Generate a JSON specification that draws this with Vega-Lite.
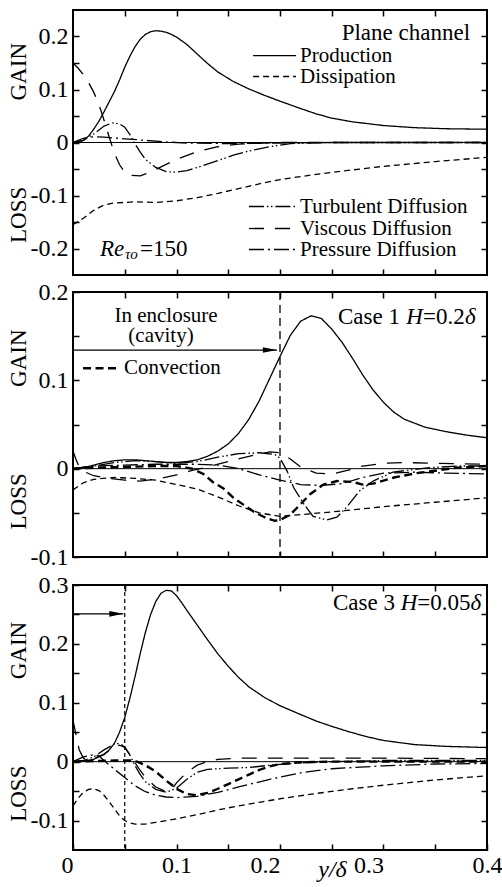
{
"$schema": "https://vega.github.io/schema/vega-lite/v6.json",
"padding": {"left": 5, "top": 8, "right": 0, "bottom": 0},
"config": {
 "view": {"stroke": "black", "strokeWidth": 2},
 "font": "Liberation Serif",
 "axis": {"domain": false, "grid": false, "tickColor": "black", "tickWidth": 1.5, "tickSize": -6, "labelFont": "Liberation Serif", "labelFontSize": 24, "labelColor": "black", "labelOverlap": false, "titleFont": "Liberation Serif", "titleFontWeight": "normal", "titleColor": "black", "titleFontSize": 23},
 "axisLeft": {"labelPadding": 11},
 "axisBottom": {"labelPadding": 9, "labelFlush": false},
 "text": {"font": "Liberation Serif", "color": "black", "baseline": "middle"}
},
"datasets": {
 "curves": [
  {"p":1,"s":"Production","x":0,"y":0},{"p":1,"s":"Production","x":0.005,"y":0.001},{"p":1,"s":"Production","x":0.01,"y":0.004},{"p":1,"s":"Production","x":0.015,"y":0.012},{"p":1,"s":"Production","x":0.02,"y":0.025},{"p":1,"s":"Production","x":0.025,"y":0.04},{"p":1,"s":"Production","x":0.03,"y":0.058},{"p":1,"s":"Production","x":0.035,"y":0.077},{"p":1,"s":"Production","x":0.04,"y":0.096},{"p":1,"s":"Production","x":0.045,"y":0.118},{"p":1,"s":"Production","x":0.05,"y":0.142},{"p":1,"s":"Production","x":0.055,"y":0.163},{"p":1,"s":"Production","x":0.06,"y":0.181},{"p":1,"s":"Production","x":0.065,"y":0.195},{"p":1,"s":"Production","x":0.07,"y":0.204},{"p":1,"s":"Production","x":0.075,"y":0.209},{"p":1,"s":"Production","x":0.08,"y":0.211},{"p":1,"s":"Production","x":0.085,"y":0.21},{"p":1,"s":"Production","x":0.09,"y":0.208},{"p":1,"s":"Production","x":0.095,"y":0.204},{"p":1,"s":"Production","x":0.1,"y":0.199},{"p":1,"s":"Production","x":0.11,"y":0.185},{"p":1,"s":"Production","x":0.12,"y":0.167},{"p":1,"s":"Production","x":0.13,"y":0.149},{"p":1,"s":"Production","x":0.14,"y":0.133},{"p":1,"s":"Production","x":0.155,"y":0.115},{"p":1,"s":"Production","x":0.17,"y":0.101},{"p":1,"s":"Production","x":0.185,"y":0.089},{"p":1,"s":"Production","x":0.2,"y":0.078},{"p":1,"s":"Production","x":0.22,"y":0.064},{"p":1,"s":"Production","x":0.235,"y":0.054},{"p":1,"s":"Production","x":0.25,"y":0.046},{"p":1,"s":"Production","x":0.27,"y":0.039},{"p":1,"s":"Production","x":0.3,"y":0.032},{"p":1,"s":"Production","x":0.33,"y":0.028},{"p":1,"s":"Production","x":0.36,"y":0.026},{"p":1,"s":"Production","x":0.4,"y":0.025},
  {"p":1,"s":"Dissipation","x":0,"y":-0.155},{"p":1,"s":"Dissipation","x":0.01,"y":-0.143},{"p":1,"s":"Dissipation","x":0.02,"y":-0.128},{"p":1,"s":"Dissipation","x":0.03,"y":-0.118},{"p":1,"s":"Dissipation","x":0.04,"y":-0.114},{"p":1,"s":"Dissipation","x":0.06,"y":-0.112},{"p":1,"s":"Dissipation","x":0.08,"y":-0.113},{"p":1,"s":"Dissipation","x":0.1,"y":-0.11},{"p":1,"s":"Dissipation","x":0.12,"y":-0.104},{"p":1,"s":"Dissipation","x":0.14,"y":-0.096},{"p":1,"s":"Dissipation","x":0.16,"y":-0.087},{"p":1,"s":"Dissipation","x":0.18,"y":-0.078},{"p":1,"s":"Dissipation","x":0.2,"y":-0.07},{"p":1,"s":"Dissipation","x":0.235,"y":-0.06},{"p":1,"s":"Dissipation","x":0.26,"y":-0.054},{"p":1,"s":"Dissipation","x":0.3,"y":-0.045},{"p":1,"s":"Dissipation","x":0.35,"y":-0.036},{"p":1,"s":"Dissipation","x":0.4,"y":-0.028},
  {"p":1,"s":"Viscous Diffusion","x":0,"y":0.15},{"p":1,"s":"Viscous Diffusion","x":0.005,"y":0.14},{"p":1,"s":"Viscous Diffusion","x":0.01,"y":0.128},{"p":1,"s":"Viscous Diffusion","x":0.015,"y":0.113},{"p":1,"s":"Viscous Diffusion","x":0.02,"y":0.095},{"p":1,"s":"Viscous Diffusion","x":0.025,"y":0.072},{"p":1,"s":"Viscous Diffusion","x":0.03,"y":0.042},{"p":1,"s":"Viscous Diffusion","x":0.035,"y":0.01},{"p":1,"s":"Viscous Diffusion","x":0.04,"y":-0.02},{"p":1,"s":"Viscous Diffusion","x":0.045,"y":-0.042},{"p":1,"s":"Viscous Diffusion","x":0.05,"y":-0.056},{"p":1,"s":"Viscous Diffusion","x":0.055,"y":-0.062},{"p":1,"s":"Viscous Diffusion","x":0.065,"y":-0.063},{"p":1,"s":"Viscous Diffusion","x":0.075,"y":-0.056},{"p":1,"s":"Viscous Diffusion","x":0.085,"y":-0.046},{"p":1,"s":"Viscous Diffusion","x":0.1,"y":-0.032},{"p":1,"s":"Viscous Diffusion","x":0.12,"y":-0.017},{"p":1,"s":"Viscous Diffusion","x":0.14,"y":-0.008},{"p":1,"s":"Viscous Diffusion","x":0.16,"y":-0.003},{"p":1,"s":"Viscous Diffusion","x":0.2,"y":0},{"p":1,"s":"Viscous Diffusion","x":0.4,"y":0},
  {"p":1,"s":"Turbulent Diffusion","x":0,"y":0},{"p":1,"s":"Turbulent Diffusion","x":0.01,"y":0.004},{"p":1,"s":"Turbulent Diffusion","x":0.02,"y":0.016},{"p":1,"s":"Turbulent Diffusion","x":0.03,"y":0.031},{"p":1,"s":"Turbulent Diffusion","x":0.038,"y":0.037},{"p":1,"s":"Turbulent Diffusion","x":0.045,"y":0.035},{"p":1,"s":"Turbulent Diffusion","x":0.05,"y":0.029},{"p":1,"s":"Turbulent Diffusion","x":0.055,"y":0.015},{"p":1,"s":"Turbulent Diffusion","x":0.06,"y":-0.003},{"p":1,"s":"Turbulent Diffusion","x":0.065,"y":-0.018},{"p":1,"s":"Turbulent Diffusion","x":0.07,"y":-0.032},{"p":1,"s":"Turbulent Diffusion","x":0.08,"y":-0.047},{"p":1,"s":"Turbulent Diffusion","x":0.09,"y":-0.055},{"p":1,"s":"Turbulent Diffusion","x":0.1,"y":-0.056},{"p":1,"s":"Turbulent Diffusion","x":0.11,"y":-0.053},{"p":1,"s":"Turbulent Diffusion","x":0.125,"y":-0.044},{"p":1,"s":"Turbulent Diffusion","x":0.14,"y":-0.034},{"p":1,"s":"Turbulent Diffusion","x":0.155,"y":-0.024},{"p":1,"s":"Turbulent Diffusion","x":0.17,"y":-0.016},{"p":1,"s":"Turbulent Diffusion","x":0.19,"y":-0.008},{"p":1,"s":"Turbulent Diffusion","x":0.21,"y":-0.002},{"p":1,"s":"Turbulent Diffusion","x":0.25,"y":0},{"p":1,"s":"Turbulent Diffusion","x":0.4,"y":0},
  {"p":1,"s":"Pressure Diffusion","x":0,"y":0},{"p":1,"s":"Pressure Diffusion","x":0.005,"y":0.004},{"p":1,"s":"Pressure Diffusion","x":0.01,"y":0.008},{"p":1,"s":"Pressure Diffusion","x":0.02,"y":0.011},{"p":1,"s":"Pressure Diffusion","x":0.03,"y":0.01},{"p":1,"s":"Pressure Diffusion","x":0.05,"y":0.007},{"p":1,"s":"Pressure Diffusion","x":0.07,"y":0.004},{"p":1,"s":"Pressure Diffusion","x":0.09,"y":0.001},{"p":1,"s":"Pressure Diffusion","x":0.11,"y":-0.001},{"p":1,"s":"Pressure Diffusion","x":0.15,"y":-0.002},{"p":1,"s":"Pressure Diffusion","x":0.2,"y":-0.001},{"p":1,"s":"Pressure Diffusion","x":0.25,"y":0},{"p":1,"s":"Pressure Diffusion","x":0.4,"y":0},

  {"p":2,"s":"Production","x":0,"y":0},{"p":2,"s":"Production","x":0.01,"y":0.001},{"p":2,"s":"Production","x":0.02,"y":0.004},{"p":2,"s":"Production","x":0.03,"y":0.007},{"p":2,"s":"Production","x":0.04,"y":0.009},{"p":2,"s":"Production","x":0.05,"y":0.01},{"p":2,"s":"Production","x":0.06,"y":0.01},{"p":2,"s":"Production","x":0.07,"y":0.009},{"p":2,"s":"Production","x":0.08,"y":0.008},{"p":2,"s":"Production","x":0.09,"y":0.007},{"p":2,"s":"Production","x":0.1,"y":0.007},{"p":2,"s":"Production","x":0.11,"y":0.008},{"p":2,"s":"Production","x":0.12,"y":0.01},{"p":2,"s":"Production","x":0.13,"y":0.014},{"p":2,"s":"Production","x":0.14,"y":0.02},{"p":2,"s":"Production","x":0.15,"y":0.028},{"p":2,"s":"Production","x":0.16,"y":0.04},{"p":2,"s":"Production","x":0.17,"y":0.056},{"p":2,"s":"Production","x":0.18,"y":0.077},{"p":2,"s":"Production","x":0.19,"y":0.102},{"p":2,"s":"Production","x":0.2,"y":0.127},{"p":2,"s":"Production","x":0.21,"y":0.151},{"p":2,"s":"Production","x":0.22,"y":0.167},{"p":2,"s":"Production","x":0.23,"y":0.173},{"p":2,"s":"Production","x":0.24,"y":0.17},{"p":2,"s":"Production","x":0.25,"y":0.158},{"p":2,"s":"Production","x":0.26,"y":0.143},{"p":2,"s":"Production","x":0.27,"y":0.125},{"p":2,"s":"Production","x":0.28,"y":0.106},{"p":2,"s":"Production","x":0.29,"y":0.089},{"p":2,"s":"Production","x":0.3,"y":0.075},{"p":2,"s":"Production","x":0.31,"y":0.064},{"p":2,"s":"Production","x":0.32,"y":0.056},{"p":2,"s":"Production","x":0.34,"y":0.047},{"p":2,"s":"Production","x":0.36,"y":0.042},{"p":2,"s":"Production","x":0.38,"y":0.038},{"p":2,"s":"Production","x":0.4,"y":0.035},
  {"p":2,"s":"Dissipation","x":0,"y":-0.024},{"p":2,"s":"Dissipation","x":0.01,"y":-0.016},{"p":2,"s":"Dissipation","x":0.02,"y":-0.012},{"p":2,"s":"Dissipation","x":0.04,"y":-0.01},{"p":2,"s":"Dissipation","x":0.06,"y":-0.011},{"p":2,"s":"Dissipation","x":0.08,"y":-0.013},{"p":2,"s":"Dissipation","x":0.1,"y":-0.018},{"p":2,"s":"Dissipation","x":0.12,"y":-0.023},{"p":2,"s":"Dissipation","x":0.14,"y":-0.032},{"p":2,"s":"Dissipation","x":0.16,"y":-0.042},{"p":2,"s":"Dissipation","x":0.18,"y":-0.05},{"p":2,"s":"Dissipation","x":0.2,"y":-0.054},{"p":2,"s":"Dissipation","x":0.22,"y":-0.052},{"p":2,"s":"Dissipation","x":0.25,"y":-0.049},{"p":2,"s":"Dissipation","x":0.3,"y":-0.043},{"p":2,"s":"Dissipation","x":0.35,"y":-0.038},{"p":2,"s":"Dissipation","x":0.4,"y":-0.033},
  {"p":2,"s":"Convection","x":0,"y":0},{"p":2,"s":"Convection","x":0.02,"y":0.001},{"p":2,"s":"Convection","x":0.05,"y":0.002},{"p":2,"s":"Convection","x":0.08,"y":0.003},{"p":2,"s":"Convection","x":0.1,"y":0.003},{"p":2,"s":"Convection","x":0.115,"y":0},{"p":2,"s":"Convection","x":0.126,"y":-0.006},{"p":2,"s":"Convection","x":0.135,"y":-0.015},{"p":2,"s":"Convection","x":0.145,"y":-0.022},{"p":2,"s":"Convection","x":0.155,"y":-0.033},{"p":2,"s":"Convection","x":0.165,"y":-0.041},{"p":2,"s":"Convection","x":0.175,"y":-0.049},{"p":2,"s":"Convection","x":0.185,"y":-0.055},{"p":2,"s":"Convection","x":0.195,"y":-0.059},{"p":2,"s":"Convection","x":0.2,"y":-0.058},{"p":2,"s":"Convection","x":0.21,"y":-0.052},{"p":2,"s":"Convection","x":0.22,"y":-0.04},{"p":2,"s":"Convection","x":0.229,"y":-0.029},{"p":2,"s":"Convection","x":0.242,"y":-0.018},{"p":2,"s":"Convection","x":0.255,"y":-0.014},{"p":2,"s":"Convection","x":0.27,"y":-0.015},{"p":2,"s":"Convection","x":0.28,"y":-0.018},{"p":2,"s":"Convection","x":0.29,"y":-0.017},{"p":2,"s":"Convection","x":0.31,"y":-0.01},{"p":2,"s":"Convection","x":0.332,"y":-0.005},{"p":2,"s":"Convection","x":0.352,"y":-0.002},{"p":2,"s":"Convection","x":0.37,"y":0.001},{"p":2,"s":"Convection","x":0.4,"y":0.003},
  {"p":2,"s":"Turbulent Diffusion","x":0,"y":0},{"p":2,"s":"Turbulent Diffusion","x":0.02,"y":0.003},{"p":2,"s":"Turbulent Diffusion","x":0.04,"y":0.007},{"p":2,"s":"Turbulent Diffusion","x":0.06,"y":0.009},{"p":2,"s":"Turbulent Diffusion","x":0.08,"y":0.008},{"p":2,"s":"Turbulent Diffusion","x":0.1,"y":0.006},{"p":2,"s":"Turbulent Diffusion","x":0.12,"y":0.008},{"p":2,"s":"Turbulent Diffusion","x":0.14,"y":0.013},{"p":2,"s":"Turbulent Diffusion","x":0.16,"y":0.017},{"p":2,"s":"Turbulent Diffusion","x":0.18,"y":0.018},{"p":2,"s":"Turbulent Diffusion","x":0.195,"y":0.016},{"p":2,"s":"Turbulent Diffusion","x":0.2,"y":0.012},{"p":2,"s":"Turbulent Diffusion","x":0.207,"y":-0.003},{"p":2,"s":"Turbulent Diffusion","x":0.213,"y":-0.021},{"p":2,"s":"Turbulent Diffusion","x":0.223,"y":-0.04},{"p":2,"s":"Turbulent Diffusion","x":0.232,"y":-0.054},{"p":2,"s":"Turbulent Diffusion","x":0.245,"y":-0.058},{"p":2,"s":"Turbulent Diffusion","x":0.255,"y":-0.055},{"p":2,"s":"Turbulent Diffusion","x":0.264,"y":-0.044},{"p":2,"s":"Turbulent Diffusion","x":0.277,"y":-0.025},{"p":2,"s":"Turbulent Diffusion","x":0.29,"y":-0.014},{"p":2,"s":"Turbulent Diffusion","x":0.309,"y":-0.004},{"p":2,"s":"Turbulent Diffusion","x":0.342,"y":0.001},{"p":2,"s":"Turbulent Diffusion","x":0.374,"y":0.003},{"p":2,"s":"Turbulent Diffusion","x":0.4,"y":0.003},
  {"p":2,"s":"Viscous Diffusion","x":0,"y":0.02},{"p":2,"s":"Viscous Diffusion","x":0.003,"y":0.01},{"p":2,"s":"Viscous Diffusion","x":0.006,"y":0.002},{"p":2,"s":"Viscous Diffusion","x":0.012,"y":-0.004},{"p":2,"s":"Viscous Diffusion","x":0.02,"y":-0.008},{"p":2,"s":"Viscous Diffusion","x":0.035,"y":-0.011},{"p":2,"s":"Viscous Diffusion","x":0.05,"y":-0.013},{"p":2,"s":"Viscous Diffusion","x":0.065,"y":-0.014},{"p":2,"s":"Viscous Diffusion","x":0.08,"y":-0.012},{"p":2,"s":"Viscous Diffusion","x":0.1,"y":-0.007},{"p":2,"s":"Viscous Diffusion","x":0.115,"y":-0.002},{"p":2,"s":"Viscous Diffusion","x":0.13,"y":0.002},{"p":2,"s":"Viscous Diffusion","x":0.15,"y":0.008},{"p":2,"s":"Viscous Diffusion","x":0.17,"y":0.014},{"p":2,"s":"Viscous Diffusion","x":0.19,"y":0.019},{"p":2,"s":"Viscous Diffusion","x":0.2,"y":0.018},{"p":2,"s":"Viscous Diffusion","x":0.21,"y":0.011},{"p":2,"s":"Viscous Diffusion","x":0.22,"y":0.002},{"p":2,"s":"Viscous Diffusion","x":0.235,"y":-0.005},{"p":2,"s":"Viscous Diffusion","x":0.25,"y":-0.006},{"p":2,"s":"Viscous Diffusion","x":0.265,"y":-0.002},{"p":2,"s":"Viscous Diffusion","x":0.28,"y":0.003},{"p":2,"s":"Viscous Diffusion","x":0.3,"y":0.006},{"p":2,"s":"Viscous Diffusion","x":0.32,"y":0.007},{"p":2,"s":"Viscous Diffusion","x":0.35,"y":0.006},{"p":2,"s":"Viscous Diffusion","x":0.4,"y":0.005},
  {"p":2,"s":"Pressure Diffusion","x":0,"y":0},{"p":2,"s":"Pressure Diffusion","x":0.02,"y":0.003},{"p":2,"s":"Pressure Diffusion","x":0.05,"y":0.004},{"p":2,"s":"Pressure Diffusion","x":0.08,"y":0.005},{"p":2,"s":"Pressure Diffusion","x":0.1,"y":0.005},{"p":2,"s":"Pressure Diffusion","x":0.12,"y":0.005},{"p":2,"s":"Pressure Diffusion","x":0.14,"y":0.004},{"p":2,"s":"Pressure Diffusion","x":0.16,"y":0},{"p":2,"s":"Pressure Diffusion","x":0.18,"y":-0.007},{"p":2,"s":"Pressure Diffusion","x":0.2,"y":-0.013},{"p":2,"s":"Pressure Diffusion","x":0.22,"y":-0.018},{"p":2,"s":"Pressure Diffusion","x":0.24,"y":-0.019},{"p":2,"s":"Pressure Diffusion","x":0.26,"y":-0.017},{"p":2,"s":"Pressure Diffusion","x":0.28,"y":-0.01},{"p":2,"s":"Pressure Diffusion","x":0.3,"y":-0.005},{"p":2,"s":"Pressure Diffusion","x":0.33,"y":-0.004},{"p":2,"s":"Pressure Diffusion","x":0.36,"y":-0.005},{"p":2,"s":"Pressure Diffusion","x":0.4,"y":-0.006},

  {"p":3,"s":"Production","x":0,"y":0},{"p":3,"s":"Production","x":0.01,"y":0.001},{"p":3,"s":"Production","x":0.02,"y":0.004},{"p":3,"s":"Production","x":0.03,"y":0.012},{"p":3,"s":"Production","x":0.035,"y":0.02},{"p":3,"s":"Production","x":0.04,"y":0.031},{"p":3,"s":"Production","x":0.045,"y":0.05},{"p":3,"s":"Production","x":0.05,"y":0.075},{"p":3,"s":"Production","x":0.055,"y":0.108},{"p":3,"s":"Production","x":0.06,"y":0.145},{"p":3,"s":"Production","x":0.065,"y":0.184},{"p":3,"s":"Production","x":0.07,"y":0.22},{"p":3,"s":"Production","x":0.075,"y":0.25},{"p":3,"s":"Production","x":0.08,"y":0.272},{"p":3,"s":"Production","x":0.085,"y":0.286},{"p":3,"s":"Production","x":0.09,"y":0.291},{"p":3,"s":"Production","x":0.095,"y":0.29},{"p":3,"s":"Production","x":0.1,"y":0.282},{"p":3,"s":"Production","x":0.105,"y":0.27},{"p":3,"s":"Production","x":0.11,"y":0.257},{"p":3,"s":"Production","x":0.12,"y":0.232},{"p":3,"s":"Production","x":0.13,"y":0.207},{"p":3,"s":"Production","x":0.14,"y":0.183},{"p":3,"s":"Production","x":0.15,"y":0.162},{"p":3,"s":"Production","x":0.16,"y":0.143},{"p":3,"s":"Production","x":0.17,"y":0.127},{"p":3,"s":"Production","x":0.185,"y":0.109},{"p":3,"s":"Production","x":0.2,"y":0.095},{"p":3,"s":"Production","x":0.22,"y":0.08},{"p":3,"s":"Production","x":0.235,"y":0.069},{"p":3,"s":"Production","x":0.25,"y":0.06},{"p":3,"s":"Production","x":0.268,"y":0.05},{"p":3,"s":"Production","x":0.285,"y":0.042},{"p":3,"s":"Production","x":0.3,"y":0.036},{"p":3,"s":"Production","x":0.33,"y":0.029},{"p":3,"s":"Production","x":0.36,"y":0.026},{"p":3,"s":"Production","x":0.4,"y":0.024},
  {"p":3,"s":"Dissipation","x":0,"y":-0.075},{"p":3,"s":"Dissipation","x":0.005,"y":-0.062},{"p":3,"s":"Dissipation","x":0.01,"y":-0.052},{"p":3,"s":"Dissipation","x":0.015,"y":-0.047},{"p":3,"s":"Dissipation","x":0.02,"y":-0.046},{"p":3,"s":"Dissipation","x":0.025,"y":-0.049},{"p":3,"s":"Dissipation","x":0.03,"y":-0.057},{"p":3,"s":"Dissipation","x":0.035,"y":-0.068},{"p":3,"s":"Dissipation","x":0.04,"y":-0.08},{"p":3,"s":"Dissipation","x":0.045,"y":-0.092},{"p":3,"s":"Dissipation","x":0.05,"y":-0.1},{"p":3,"s":"Dissipation","x":0.055,"y":-0.104},{"p":3,"s":"Dissipation","x":0.06,"y":-0.106},{"p":3,"s":"Dissipation","x":0.07,"y":-0.106},{"p":3,"s":"Dissipation","x":0.08,"y":-0.103},{"p":3,"s":"Dissipation","x":0.1,"y":-0.097},{"p":3,"s":"Dissipation","x":0.12,"y":-0.09},{"p":3,"s":"Dissipation","x":0.14,"y":-0.082},{"p":3,"s":"Dissipation","x":0.16,"y":-0.075},{"p":3,"s":"Dissipation","x":0.18,"y":-0.069},{"p":3,"s":"Dissipation","x":0.2,"y":-0.063},{"p":3,"s":"Dissipation","x":0.235,"y":-0.054},{"p":3,"s":"Dissipation","x":0.27,"y":-0.046},{"p":3,"s":"Dissipation","x":0.3,"y":-0.04},{"p":3,"s":"Dissipation","x":0.35,"y":-0.031},{"p":3,"s":"Dissipation","x":0.4,"y":-0.024},
  {"p":3,"s":"Viscous Diffusion","x":0,"y":0.07},{"p":3,"s":"Viscous Diffusion","x":0.003,"y":0.045},{"p":3,"s":"Viscous Diffusion","x":0.006,"y":0.02},{"p":3,"s":"Viscous Diffusion","x":0.01,"y":0.006},{"p":3,"s":"Viscous Diffusion","x":0.015,"y":0.003},{"p":3,"s":"Viscous Diffusion","x":0.02,"y":0.005},{"p":3,"s":"Viscous Diffusion","x":0.03,"y":0.013},{"p":3,"s":"Viscous Diffusion","x":0.04,"y":0.025},{"p":3,"s":"Viscous Diffusion","x":0.045,"y":0.028},{"p":3,"s":"Viscous Diffusion","x":0.05,"y":0.024},{"p":3,"s":"Viscous Diffusion","x":0.055,"y":0.012},{"p":3,"s":"Viscous Diffusion","x":0.06,"y":-0.002},{"p":3,"s":"Viscous Diffusion","x":0.065,"y":-0.015},{"p":3,"s":"Viscous Diffusion","x":0.07,"y":-0.027},{"p":3,"s":"Viscous Diffusion","x":0.08,"y":-0.043},{"p":3,"s":"Viscous Diffusion","x":0.09,"y":-0.051},{"p":3,"s":"Viscous Diffusion","x":0.095,"y":-0.048},{"p":3,"s":"Viscous Diffusion","x":0.1,"y":-0.036},{"p":3,"s":"Viscous Diffusion","x":0.11,"y":-0.018},{"p":3,"s":"Viscous Diffusion","x":0.12,"y":-0.006},{"p":3,"s":"Viscous Diffusion","x":0.13,"y":0},{"p":3,"s":"Viscous Diffusion","x":0.14,"y":0.004},{"p":3,"s":"Viscous Diffusion","x":0.16,"y":0.006},{"p":3,"s":"Viscous Diffusion","x":0.2,"y":0.006},{"p":3,"s":"Viscous Diffusion","x":0.3,"y":0.006},{"p":3,"s":"Viscous Diffusion","x":0.4,"y":0.005},
  {"p":3,"s":"Turbulent Diffusion","x":0,"y":0},{"p":3,"s":"Turbulent Diffusion","x":0.01,"y":0.002},{"p":3,"s":"Turbulent Diffusion","x":0.02,"y":0.008},{"p":3,"s":"Turbulent Diffusion","x":0.03,"y":0.02},{"p":3,"s":"Turbulent Diffusion","x":0.04,"y":0.03},{"p":3,"s":"Turbulent Diffusion","x":0.045,"y":0.031},{"p":3,"s":"Turbulent Diffusion","x":0.05,"y":0.025},{"p":3,"s":"Turbulent Diffusion","x":0.055,"y":0.011},{"p":3,"s":"Turbulent Diffusion","x":0.06,"y":-0.007},{"p":3,"s":"Turbulent Diffusion","x":0.065,"y":-0.022},{"p":3,"s":"Turbulent Diffusion","x":0.07,"y":-0.034},{"p":3,"s":"Turbulent Diffusion","x":0.08,"y":-0.047},{"p":3,"s":"Turbulent Diffusion","x":0.09,"y":-0.052},{"p":3,"s":"Turbulent Diffusion","x":0.1,"y":-0.045},{"p":3,"s":"Turbulent Diffusion","x":0.11,"y":-0.03},{"p":3,"s":"Turbulent Diffusion","x":0.12,"y":-0.018},{"p":3,"s":"Turbulent Diffusion","x":0.13,"y":-0.013},{"p":3,"s":"Turbulent Diffusion","x":0.15,"y":-0.011},{"p":3,"s":"Turbulent Diffusion","x":0.17,"y":-0.01},{"p":3,"s":"Turbulent Diffusion","x":0.19,"y":-0.006},{"p":3,"s":"Turbulent Diffusion","x":0.22,"y":-0.002},{"p":3,"s":"Turbulent Diffusion","x":0.25,"y":0},{"p":3,"s":"Turbulent Diffusion","x":0.3,"y":0.002},{"p":3,"s":"Turbulent Diffusion","x":0.4,"y":0.002},
  {"p":3,"s":"Pressure Diffusion","x":0,"y":0},{"p":3,"s":"Pressure Diffusion","x":0.01,"y":0.008},{"p":3,"s":"Pressure Diffusion","x":0.02,"y":0.012},{"p":3,"s":"Pressure Diffusion","x":0.025,"y":0.01},{"p":3,"s":"Pressure Diffusion","x":0.03,"y":0.002},{"p":3,"s":"Pressure Diffusion","x":0.04,"y":-0.013},{"p":3,"s":"Pressure Diffusion","x":0.05,"y":-0.027},{"p":3,"s":"Pressure Diffusion","x":0.06,"y":-0.041},{"p":3,"s":"Pressure Diffusion","x":0.07,"y":-0.051},{"p":3,"s":"Pressure Diffusion","x":0.08,"y":-0.057},{"p":3,"s":"Pressure Diffusion","x":0.09,"y":-0.06},{"p":3,"s":"Pressure Diffusion","x":0.1,"y":-0.061},{"p":3,"s":"Pressure Diffusion","x":0.12,"y":-0.059},{"p":3,"s":"Pressure Diffusion","x":0.14,"y":-0.052},{"p":3,"s":"Pressure Diffusion","x":0.16,"y":-0.043},{"p":3,"s":"Pressure Diffusion","x":0.19,"y":-0.03},{"p":3,"s":"Pressure Diffusion","x":0.22,"y":-0.019},{"p":3,"s":"Pressure Diffusion","x":0.25,"y":-0.012},{"p":3,"s":"Pressure Diffusion","x":0.3,"y":-0.007},{"p":3,"s":"Pressure Diffusion","x":0.35,"y":-0.004},{"p":3,"s":"Pressure Diffusion","x":0.4,"y":-0.003},
  {"p":3,"s":"Convection","x":0,"y":0},{"p":3,"s":"Convection","x":0.02,"y":0.001},{"p":3,"s":"Convection","x":0.04,"y":0.002},{"p":3,"s":"Convection","x":0.055,"y":0.002},{"p":3,"s":"Convection","x":0.062,"y":0},{"p":3,"s":"Convection","x":0.07,"y":-0.006},{"p":3,"s":"Convection","x":0.08,"y":-0.017},{"p":3,"s":"Convection","x":0.09,"y":-0.032},{"p":3,"s":"Convection","x":0.1,"y":-0.046},{"p":3,"s":"Convection","x":0.11,"y":-0.055},{"p":3,"s":"Convection","x":0.12,"y":-0.057},{"p":3,"s":"Convection","x":0.13,"y":-0.053},{"p":3,"s":"Convection","x":0.14,"y":-0.046},{"p":3,"s":"Convection","x":0.15,"y":-0.038},{"p":3,"s":"Convection","x":0.16,"y":-0.03},{"p":3,"s":"Convection","x":0.17,"y":-0.022},{"p":3,"s":"Convection","x":0.18,"y":-0.014},{"p":3,"s":"Convection","x":0.19,"y":-0.008},{"p":3,"s":"Convection","x":0.2,"y":-0.004},{"p":3,"s":"Convection","x":0.22,"y":-0.001},{"p":3,"s":"Convection","x":0.25,"y":0},{"p":3,"s":"Convection","x":0.4,"y":0}
 ],
 "legend": [
  {"p":1,"s":"Production","x1":0.174,"x2":0.2155,"y":0.164},
  {"p":1,"s":"Dissipation","x1":0.174,"x2":0.2155,"y":0.1245},
  {"p":1,"s":"Turbulent Diffusion","x1":0.17,"x2":0.2155,"y":-0.1208},
  {"p":1,"s":"Viscous Diffusion","x1":0.17,"x2":0.2155,"y":-0.1623},
  {"p":1,"s":"Pressure Diffusion","x1":0.17,"x2":0.2155,"y":-0.2019},
  {"p":2,"s":"Convection","x1":0.0097,"x2":0.0454,"y":0.1136}
 ],
 "zero": [{"x1":0,"x2":0.4,"y":0}],
 "walls": [{"p":2,"x":0.2},{"p":3,"x":0.05}],
 "arrows": [{"p":2,"x1":0,"x2":0.197,"y":0.1343},{"p":3,"x1":0,"x2":0.0486,"y":0.251}],
 "text_plain": [{"p":1,"x":0.0647,"y":-0.2,"t":"=150"},{"p":2,"x":0.256,"y":0.1713,"t":"Case 1"},{"p":2,"x":0.3382,"y":0.1713,"t":"=0.2"},{"p":3,"x":0.2512,"y":0.269,"t":"Case 3"},{"p":3,"x":0.3327,"y":0.269,"t":"=0.05"}],
 "text_italic": [{"p":1,"x":0.0261,"y":-0.2,"t":"Re"},{"p":2,"x":0.322,"y":0.1713,"t":"H"},{"p":2,"x":0.3787,"y":0.1713,"t":"δ"},{"p":3,"x":0.3166,"y":0.269,"t":"H"},{"p":3,"x":0.3841,"y":0.269,"t":"δ"}],
 "text_sub": [{"p":1,"x":0.0502,"y":-0.211,"t":"τo"}],
 "text_right": [{"p":1,"x":0.3836,"y":0.2057,"t":"Plane channel"}],
 "text_center": [{"p":2,"x":0.0899,"y":0.1724,"t":"In enclosure"},{"p":2,"x":0.085,"y":0.15,"t":"(cavity)"}]
},
"spacing": 2,
"vconcat": [
  {"width": 414, "height": 265,
   "resolve": {"axis": {"x": "independent", "y": "independent"}},
   "layer": [
    {"data": {"name": "zero"}, "mark": {"type": "rule", "color": "black", "strokeWidth": 1},
     "encoding": {"x": {"field": "x1", "type": "quantitative", "scale": {"domain": [0, 0.4], "nice": false, "zero": false}, "axis": {"orient": "top", "values": [0.05,0.1,0.15,0.2,0.25,0.3,0.35], "labels": false, "title": null}}, "x2": {"field": "x2"},
      "y": {"field": "y", "type": "quantitative", "scale": {"domain": [-0.25, 0.25], "nice": false, "zero": false}, "axis": {"orient": "right", "values": [-0.2,-0.15,-0.1,-0.05,0,0.05,0.1,0.15,0.2], "labels": false, "title": null}}}},
    {"data": {"name": "curves"}, "transform": [{"filter": "datum.p==1"}],
     "mark": {"type": "line", "color": "black", "strokeWidth": 1.3},
     "encoding": {
      "x": {"field": "x", "type": "quantitative", "axis": {"orient": "bottom", "values": [0.05,0.1,0.15,0.2,0.25,0.3,0.35], "labels": false, "title": null}},
      "y": {"field": "y", "type": "quantitative", "axis": {"orient": "left", "values": [-0.2,-0.15,-0.1,-0.05,0,0.05,0.1,0.15,0.2], "labelExpr": "abs(round(datum.value*20))%2==0 ? (abs(datum.value)<1e-9 ? '0' : (datum.value<0 ? '-' : '') + format(abs(datum.value), '.1f')) : ''", "title": "LOSS\u00a0\u00a0\u00a0\u00a0\u00a0\u00a0\u00a0\u00a0\u00a0\u00a0\u00a0\u00a0\u00a0\u00a0\u00a0GAIN", "titleX": -55, "titleY": 132.5, "titleAngle": 270, "titleBaseline": "middle", "titleAlign": "center"}},
      "strokeDash": {"field": "s", "type": "nominal", "scale": {"domain": ["Production","Dissipation","Turbulent Diffusion","Viscous Diffusion","Pressure Diffusion"], "range": [[1,0],[6,4],[15,3,1.5,2.5,1.5,3],[15,11],[15,4,2,4]]}, "legend": null}}},
    {"data": {"name": "legend"}, "transform": [{"filter": "datum.p==1"}],
     "mark": {"type": "rule", "color": "black", "strokeWidth": 1.3},
     "encoding": {"x": {"field": "x1", "type": "quantitative", "axis": null}, "x2": {"field": "x2"}, "y": {"field": "y", "type": "quantitative", "axis": null},
      "strokeDash": {"field": "s", "type": "nominal", "scale": {"domain": ["Production","Dissipation","Turbulent Diffusion","Viscous Diffusion","Pressure Diffusion"], "range": [[1,0],[6,4],[15,3,1.5,2.5,1.5,3],[15,11],[15,4,2,4]]}, "legend": null}}},
    {"data": {"name": "legend"}, "transform": [{"filter": "datum.p==1"}],
     "mark": {"type": "text", "align": "left", "dx": 4, "fontSize": 21},
     "encoding": {"x": {"field": "x2", "type": "quantitative", "axis": null}, "y": {"field": "y", "type": "quantitative", "axis": null}, "text": {"field": "s"}}},
    {"data": {"name": "text_right"}, "transform": [{"filter": "datum.p==1"}],
     "mark": {"type": "text", "align": "right", "fontSize": 23},
     "encoding": {"x": {"field": "x", "type": "quantitative", "axis": null}, "y": {"field": "y", "type": "quantitative", "axis": null}, "text": {"field": "t"}}},
    {"data": {"name": "text_plain"}, "transform": [{"filter": "datum.p==1"}],
     "mark": {"type": "text", "align": "left", "fontSize": 23},
     "encoding": {"x": {"field": "x", "type": "quantitative", "axis": null}, "y": {"field": "y", "type": "quantitative", "axis": null}, "text": {"field": "t"}}},
    {"data": {"name": "text_italic"}, "transform": [{"filter": "datum.p==1"}],
     "mark": {"type": "text", "align": "left", "fontSize": 23, "fontStyle": "italic"},
     "encoding": {"x": {"field": "x", "type": "quantitative", "axis": null}, "y": {"field": "y", "type": "quantitative", "axis": null}, "text": {"field": "t"}}},
    {"data": {"name": "text_sub"}, "transform": [{"filter": "datum.p==1"}],
     "mark": {"type": "text", "align": "left", "fontSize": 15, "fontStyle": "italic"},
     "encoding": {"x": {"field": "x", "type": "quantitative", "axis": null}, "y": {"field": "y", "type": "quantitative", "axis": null}, "text": {"field": "t"}}}
   ]},
  {"width": 414, "height": 265,
   "resolve": {"axis": {"x": "independent", "y": "independent"}},
   "layer": [
    {"data": {"name": "zero"}, "mark": {"type": "rule", "color": "black", "strokeWidth": 1},
     "encoding": {"x": {"field": "x1", "type": "quantitative", "scale": {"domain": [0, 0.4], "nice": false, "zero": false}, "axis": {"orient": "top", "values": [0.05,0.1,0.15,0.2,0.25,0.3,0.35], "labels": false, "title": null}}, "x2": {"field": "x2"},
      "y": {"field": "y", "type": "quantitative", "scale": {"domain": [-0.1, 0.2], "nice": false, "zero": false}, "axis": {"orient": "right", "values": [-0.05,0,0.05,0.1,0.15], "labels": false, "title": null}}}},
    {"data": {"name": "curves"}, "transform": [{"filter": "datum.p==2 && datum.s!='Convection'"}],
     "mark": {"type": "line", "color": "black", "strokeWidth": 1.3},
     "encoding": {
      "x": {"field": "x", "type": "quantitative", "axis": {"orient": "bottom", "values": [0.05,0.1,0.15,0.2,0.25,0.3,0.35], "labels": false, "title": null}},
      "y": {"field": "y", "type": "quantitative", "axis": {"orient": "left", "values": [-0.1,-0.05,0,0.05,0.1,0.15,0.2], "labelExpr": "abs(round(datum.value*20))%2==0 ? (abs(datum.value)<1e-9 ? '0' : (datum.value<0 ? '-' : '') + format(abs(datum.value), '.1f')) : ''", "title": "LOSS\u00a0\u00a0\u00a0\u00a0\u00a0\u00a0\u00a0\u00a0\u00a0\u00a0\u00a0\u00a0\u00a0\u00a0\u00a0GAIN", "titleX": -55, "titleY": 137, "titleAngle": 270, "titleBaseline": "middle", "titleAlign": "center"}},
      "strokeDash": {"field": "s", "type": "nominal", "scale": {"domain": ["Production","Dissipation","Turbulent Diffusion","Viscous Diffusion","Pressure Diffusion"], "range": [[1,0],[6,4],[15,3,1.5,2.5,1.5,3],[15,11],[15,4,2,4]]}, "legend": null}}},
    {"data": {"name": "curves"}, "transform": [{"filter": "datum.p==2 && datum.s=='Convection'"}],
     "mark": {"type": "line", "color": "black", "strokeWidth": 2.4, "strokeDash": [8, 4.5]},
     "encoding": {"x": {"field": "x", "type": "quantitative", "axis": null}, "y": {"field": "y", "type": "quantitative", "axis": null}}},
    {"data": {"name": "walls"}, "transform": [{"filter": "datum.p==2"}],
     "mark": {"type": "rule", "color": "black", "strokeWidth": 1.3, "strokeDash": [8, 5]},
     "encoding": {"x": {"field": "x", "type": "quantitative", "axis": null}}},
    {"data": {"name": "arrows"}, "transform": [{"filter": "datum.p==2"}],
     "mark": {"type": "rule", "color": "black", "strokeWidth": 1.3},
     "encoding": {"x": {"field": "x1", "type": "quantitative", "axis": null}, "x2": {"field": "x2"}, "y": {"field": "y", "type": "quantitative", "axis": null}}},
    {"data": {"name": "arrows"}, "transform": [{"filter": "datum.p==2"}],
     "mark": {"type": "point", "shape": "M-2,-0.4L0,0L-2,0.4Z", "filled": true, "color": "black", "opacity": 1, "size": 196, "strokeWidth": 0},
     "encoding": {"x": {"field": "x2", "type": "quantitative", "axis": null}, "y": {"field": "y", "type": "quantitative", "axis": null}}},
    {"data": {"name": "legend"}, "transform": [{"filter": "datum.p==2"}],
     "mark": {"type": "rule", "color": "black", "strokeWidth": 2.4, "strokeDash": [8, 4.5]},
     "encoding": {"x": {"field": "x1", "type": "quantitative", "axis": null}, "x2": {"field": "x2"}, "y": {"field": "y", "type": "quantitative", "axis": null}}},
    {"data": {"name": "legend"}, "transform": [{"filter": "datum.p==2"}],
     "mark": {"type": "text", "align": "left", "dx": 4, "fontSize": 21},
     "encoding": {"x": {"field": "x2", "type": "quantitative", "axis": null}, "y": {"field": "y", "type": "quantitative", "axis": null}, "text": {"field": "s"}}},
    {"data": {"name": "text_center"}, "transform": [{"filter": "datum.p==2"}],
     "mark": {"type": "text", "align": "center", "fontSize": 21},
     "encoding": {"x": {"field": "x", "type": "quantitative", "axis": null}, "y": {"field": "y", "type": "quantitative", "axis": null}, "text": {"field": "t"}}},
    {"data": {"name": "text_plain"}, "transform": [{"filter": "datum.p==2"}],
     "mark": {"type": "text", "align": "left", "fontSize": 23},
     "encoding": {"x": {"field": "x", "type": "quantitative", "axis": null}, "y": {"field": "y", "type": "quantitative", "axis": null}, "text": {"field": "t"}}},
    {"data": {"name": "text_italic"}, "transform": [{"filter": "datum.p==2"}],
     "mark": {"type": "text", "align": "left", "fontSize": 23, "fontStyle": "italic"},
     "encoding": {"x": {"field": "x", "type": "quantitative", "axis": null}, "y": {"field": "y", "type": "quantitative", "axis": null}, "text": {"field": "t"}}}
   ]},
 {"width": 414, "height": 265,
  "resolve": {"axis": {"x": "independent", "y": "independent"}},
  "layer": [
   {"data": {"name": "zero"}, "mark": {"type": "rule", "color": "black", "strokeWidth": 1},
    "encoding": {"x": {"field": "x1", "type": "quantitative", "scale": {"domain": [0, 0.4], "nice": false, "zero": false}, "axis": {"orient": "top", "values": [0.05,0.1,0.15,0.2,0.25,0.3,0.35], "labels": false, "title": null}}, "x2": {"field": "x2"},
     "y": {"field": "y", "type": "quantitative", "scale": {"domain": [-0.15, 0.3], "nice": false, "zero": false}, "axis": {"orient": "right", "values": [-0.1,-0.05,0,0.05,0.1,0.15,0.2,0.25], "labels": false, "title": null}}}},
   {"data": {"name": "curves"}, "transform": [{"filter": "datum.p==3 && datum.s!='Convection'"}],
    "mark": {"type": "line", "color": "black", "strokeWidth": 1.3},
    "encoding": {
     "x": {"field": "x", "type": "quantitative", "axis": {"orient": "bottom", "values": [0,0.05,0.1,0.15,0.2,0.25,0.3,0.35,0.4], "labelExpr": "abs(round(datum.value*20))%2==0 ? (datum.value<1e-9 ? '0' : format(datum.value, '.1f')) : ''", "labelAlign": {"condition": {"test": "datum.value < 0.01 || (datum.value > 0.15 && datum.value < 0.35)", "value": "right"}, "value": "center"}, "title": "y/δ", "titleFontStyle": "italic", "titleFontSize": 24, "titleX": 259, "titleY": 26, "titleBaseline": "alphabetic", "titleAlign": "center"}},
     "y": {"field": "y", "type": "quantitative", "axis": {"orient": "left", "values": [-0.1,-0.05,0,0.05,0.1,0.15,0.2,0.25,0.3], "labelExpr": "abs(round(datum.value*20))%2==0 ? (abs(datum.value)<1e-9 ? '0' : (datum.value<0 ? '-' : '') + format(abs(datum.value), '.1f')) : ''", "title": "LOSS\u00a0\u00a0\u00a0\u00a0\u00a0\u00a0\u00a0\u00a0\u00a0\u00a0\u00a0\u00a0\u00a0\u00a0\u00a0GAIN", "titleX": -55, "titleY": 136.3, "titleAngle": 270, "titleBaseline": "middle", "titleAlign": "center"}},
     "strokeDash": {"field": "s", "type": "nominal", "scale": {"domain": ["Production","Dissipation","Turbulent Diffusion","Viscous Diffusion","Pressure Diffusion"], "range": [[1,0],[6,4],[15,3,1.5,2.5,1.5,3],[15,11],[15,4,2,4]]}, "legend": null}}},
   {"data": {"name": "curves"}, "transform": [{"filter": "datum.p==3 && datum.s=='Convection'"}],
    "mark": {"type": "line", "color": "black", "strokeWidth": 2.4, "strokeDash": [8, 4.5]},
    "encoding": {"x": {"field": "x", "type": "quantitative", "axis": null}, "y": {"field": "y", "type": "quantitative", "axis": null}}},
   {"data": {"name": "walls"}, "transform": [{"filter": "datum.p==3"}],
    "mark": {"type": "rule", "color": "black", "strokeWidth": 1.2, "strokeDash": [4, 3]},
    "encoding": {"x": {"field": "x", "type": "quantitative", "axis": null}}},
   {"data": {"name": "arrows"}, "transform": [{"filter": "datum.p==3"}],
    "mark": {"type": "rule", "color": "black", "strokeWidth": 1.3},
    "encoding": {"x": {"field": "x1", "type": "quantitative", "axis": null}, "x2": {"field": "x2"}, "y": {"field": "y", "type": "quantitative", "axis": null}}},
   {"data": {"name": "arrows"}, "transform": [{"filter": "datum.p==3"}],
    "mark": {"type": "point", "shape": "M-2,-0.4L0,0L-2,0.4Z", "filled": true, "color": "black", "opacity": 1, "size": 196, "strokeWidth": 0},
    "encoding": {"x": {"field": "x2", "type": "quantitative", "axis": null}, "y": {"field": "y", "type": "quantitative", "axis": null}}},
   {"data": {"name": "text_plain"}, "transform": [{"filter": "datum.p==3"}],
    "mark": {"type": "text", "align": "left", "fontSize": 23},
    "encoding": {"x": {"field": "x", "type": "quantitative", "axis": null}, "y": {"field": "y", "type": "quantitative", "axis": null}, "text": {"field": "t"}}},
   {"data": {"name": "text_italic"}, "transform": [{"filter": "datum.p==3"}],
    "mark": {"type": "text", "align": "left", "fontSize": 23, "fontStyle": "italic"},
    "encoding": {"x": {"field": "x", "type": "quantitative", "axis": null}, "y": {"field": "y", "type": "quantitative", "axis": null}, "text": {"field": "t"}}}
  ]}
]
}
